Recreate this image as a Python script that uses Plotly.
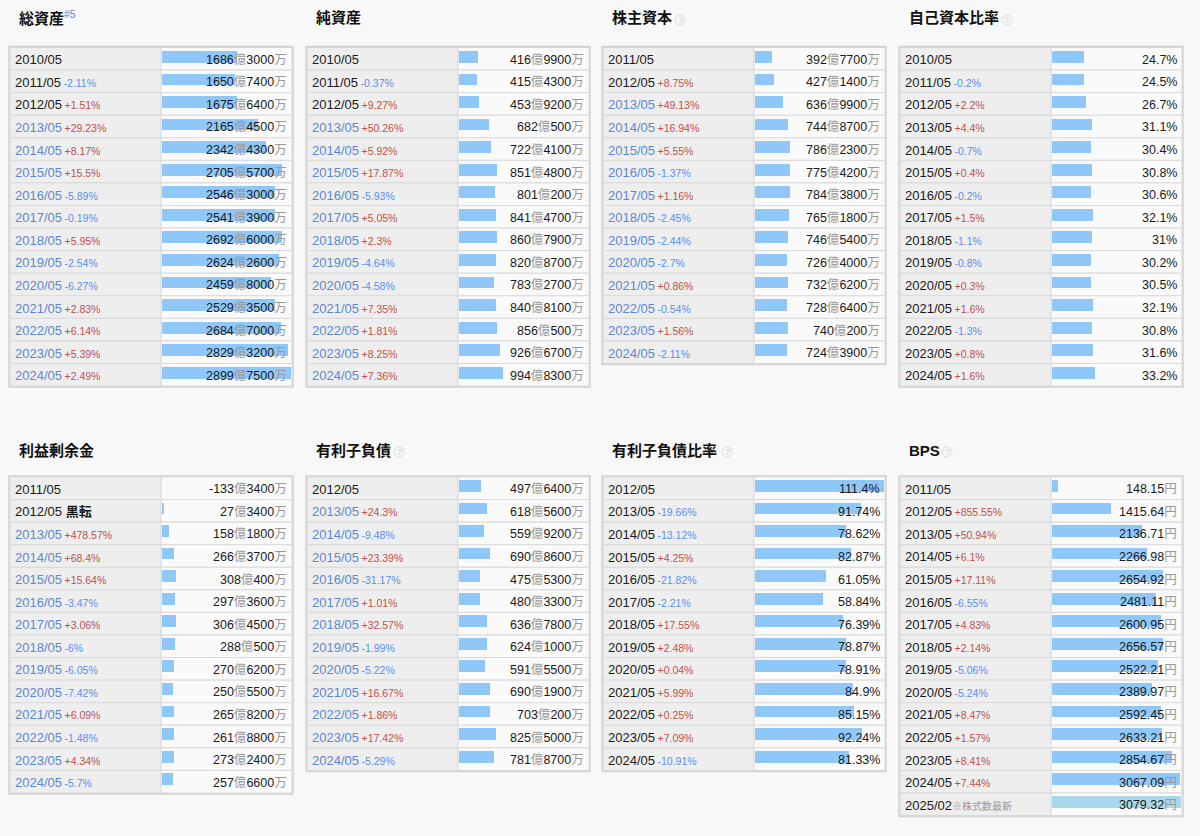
import plotly.graph_objects as go

W, H = 1200, 836
FONT = "Liberation Sans, Arial, Noto Sans CJK JP, sans-serif"

# 総資産 (億円)
ta_years = ["2010/05", "2011/05", "2012/05", "2013/05", "2014/05", "2015/05", "2016/05", "2017/05",
            "2018/05", "2019/05", "2020/05", "2021/05", "2022/05", "2023/05", "2024/05"]
ta_vals = [1686.30, 1650.74, 1675.64, 2165.45, 2342.43, 2705.57, 2546.30, 2541.39,
           2692.60, 2624.26, 2459.80, 2529.35, 2684.70, 2829.32, 2899.75]
ta_chg = [None, -2.11, 1.51, 29.23, 8.17, 15.5, -5.89, -0.19, 5.95, -2.54, -6.27, 2.83, 6.14, 5.39, 2.49]

# 純資産 (億円)
na_years = ta_years
na_vals = [416.99, 415.43, 453.92, 682.05, 722.41, 851.48, 801.02, 841.47,
           860.79, 820.87, 783.27, 840.81, 856.05, 926.67, 994.83]
na_chg = [None, -0.37, 9.27, 50.26, 5.92, 17.87, -5.93, 5.05, 2.3, -4.64, -4.58, 7.35, 1.81, 8.25, 7.36]

# 株主資本 (億円)
sc_years = ta_years[1:]
sc_vals = [392.77, 427.14, 636.99, 744.87, 786.23, 775.42, 784.38, 765.18,
           746.54, 726.40, 732.62, 728.64, 740.02, 724.39]
sc_chg = [None, 8.75, 49.13, 16.94, 5.55, -1.37, 1.16, -2.45, -2.44, -2.7, 0.86, -0.54, 1.56, -2.11]

# 自己資本比率 (%)
er_years = ta_years
er_vals = [24.7, 24.5, 26.7, 31.1, 30.4, 30.8, 30.6, 32.1, 31.0, 30.2, 30.5, 32.1, 30.8, 31.6, 33.2]
er_chg = [None, -0.2, 2.2, 4.4, -0.7, 0.4, -0.2, 1.5, -1.1, -0.8, 0.3, 1.6, -1.3, 0.8, 1.6]

# 利益剰余金 (億円)
re_years = ta_years[1:]
re_vals = [-133.34, 27.34, 158.18, 266.37, 308.04, 297.36, 306.45, 288.05,
           270.62, 250.55, 265.82, 261.88, 273.24, 257.66]
re_chg = [None, "黒転", 478.57, 68.4, 15.64, -3.47, 3.06, -6, -6.05, -7.42, 6.09, -1.48, 4.34, -5.7]

# 有利子負債 (億円)
de_years = ta_years[2:]
de_vals = [497.64, 618.56, 559.92, 690.86, 475.53, 480.33, 636.78, 624.10,
           591.55, 690.19, 703.02, 825.50, 781.87]
de_chg = [None, 24.3, -9.48, 23.39, -31.17, 1.01, 32.57, -1.99, -5.22, 16.67, 1.86, 17.42, -5.29]

# 有利子負債比率 (%)
dr_years = de_years
dr_vals = [111.4, 91.74, 78.62, 82.87, 61.05, 58.84, 76.39, 78.87, 78.91, 84.9, 85.15, 92.24, 81.33]
dr_chg = [None, -19.66, -13.12, 4.25, -21.82, -2.21, 17.55, 2.48, 0.04, 5.99, 0.25, 7.09, -10.91]

# BPS (円)
bps_years = ta_years[1:] + ["2025/02"]
bps_vals = [148.15, 1415.64, 2136.71, 2266.98, 2654.92, 2481.11, 2600.95, 2656.57,
            2522.21, 2389.97, 2592.45, 2633.21, 2854.67, 3067.09, 3079.32]
bps_chg = [None, 855.55, 50.94, 6.1, 17.11, -6.55, 4.83, 2.14, -5.06, -5.24, 8.47, 1.57, 8.41, 7.44, "※株式数最新"]

GRAY_UNIT = "#999999"
GAP = "<span style='font-size:9px'> </span>"


def oku_man(v):
    sign = "-" if v < 0 else ""
    a = abs(v)
    oku = int(a)
    man = int(round((a - oku) * 10000))
    return (f"{sign}{oku}<span style='color:{GRAY_UNIT}'>億</span>"
            f"{man}<span style='color:{GRAY_UNIT}'>万</span>")


def pct(v):
    return f"{v:g}%"


def yen(v):
    return f"{v:.2f}<span style='color:{GRAY_UNIT}'>円</span>"


shared_max = max(ta_vals)

panels = [
    dict(title="総資産", sup="#5", years=ta_years, vals=ta_vals, chg=ta_chg, fmt=oku_man, vmax=shared_max, link="2013/05", help=None),
    dict(title="純資産", sup=None, years=na_years, vals=na_vals, chg=na_chg, fmt=oku_man, vmax=shared_max, link="2013/05", help=None),
    dict(title="株主資本", sup=None, years=sc_years, vals=sc_vals, chg=sc_chg, fmt=oku_man, vmax=shared_max, link="2013/05", help=70),
    dict(title="自己資本比率", sup=None, years=er_years, vals=er_vals, chg=er_chg, fmt=pct, vmax=100, link=None, help=100),
    dict(title="利益剰余金", sup=None, years=re_years, vals=re_vals, chg=re_chg, fmt=oku_man, vmax=shared_max, link="2013/05", help=None),
    dict(title="有利子負債", sup=None, years=de_years, vals=de_vals, chg=de_chg, fmt=oku_man, vmax=shared_max, link="2013/05", help=85),
    dict(title="有利子負債比率", sup=None, years=dr_years, vals=dr_vals, chg=dr_chg, fmt=pct, vmax=max(dr_vals), link=None, help=117),
    dict(title="BPS", sup=None, years=bps_years, vals=bps_vals, chg=bps_chg, fmt=yen, vmax=max(bps_vals), link=None, help=40),
]

lefts = [10, 307, 603, 900]
tops = [47.5, 477]
title_ys = [18, 450]
RH = 22.57
LABEL_W = 151
TABLE_W = 282

BAR = "#8fc8f8"
BAR_LIGHT = "#a9d8ea"
BLACK = "#1a1a1a"
LINK = "#5b88cf"
UP = "#c0504d"
DOWN = "#5a8ff0"


def px(x):
    return x / W


def py(y):
    return 1 - y / H


fig = go.Figure()
shapes = []
annotations = []
layout_axes = {}

for k, p in enumerate(panels, start=1):
    L = lefts[(k - 1) % 4]
    top = tops[(k - 1) // 4]
    ty = title_ys[(k - 1) // 4]
    n = len(p["years"])
    sfx = "" if k == 1 else str(k)

    # table cells
    for i in range(n):
        y0, y1 = top + i * RH, top + (i + 1) * RH
        shapes.append(dict(type="rect", xref="paper", yref="paper", layer="below",
                           x0=px(L), x1=px(L + LABEL_W), y0=py(y1), y1=py(y0),
                           fillcolor="#eeeeee", line=dict(color="#dadada", width=1)))
        shapes.append(dict(type="rect", xref="paper", yref="paper", layer="below",
                           x0=px(L + LABEL_W), x1=px(L + TABLE_W), y0=py(y1), y1=py(y0),
                           fillcolor="#fafafa", line=dict(color="#dadada", width=1)))
    shapes.append(dict(type="rect", xref="paper", yref="paper", layer="below",
                       x0=px(L - 1), x1=px(L + TABLE_W + 1), y0=py(top + n * RH + 1), y1=py(top - 1),
                       fillcolor="rgba(0,0,0,0)", line=dict(color="#d2d2d2", width=1.5)))

    colors = [BAR] * n
    if isinstance(p["chg"][-1], str) and p["chg"][-1].startswith("※"):
        colors[-1] = BAR_LIGHT

    fig.add_trace(go.Bar(
        x=p["vals"], y=p["years"], orientation="h",
        xaxis="x" + sfx, yaxis="y" + sfx,
        marker=dict(color=colors, line=dict(width=0)),
        width=0.52, offset=-0.37, hoverinfo="skip", showlegend=False,
    ))

    layout_axes["xaxis" + sfx] = dict(domain=[px(L + LABEL_W + 1), px(L + TABLE_W - 1)],
                                      range=[0, p["vmax"]], visible=False, fixedrange=True,
                                      anchor="y" + sfx)
    layout_axes["yaxis" + sfx] = dict(domain=[py(top + n * RH), py(top)], type="category",
                                      categoryorder="array", categoryarray=p["years"],
                                      range=[n - 0.5, -0.5], visible=False, fixedrange=True,
                                      anchor="x" + sfx)

    linked = False
    for i, (yr, v, c) in enumerate(zip(p["years"], p["vals"], p["chg"])):
        if p["link"] is not None and yr == p["link"]:
            linked = True
        ycol = LINK if linked else BLACK
        txt = f"<span style='color:{ycol}'>{yr}</span>"
        if isinstance(c, str):
            if c.startswith("※"):
                txt += f"<span style='font-size:10px;color:#9a9a9a'>{c}</span>"
            else:
                txt += f" <b>{c}</b>"
        elif c is not None:
            cc = UP if c > 0 else DOWN
            txt += f"{GAP}<span style='font-size:10.5px;color:{cc}'>{c:+g}%</span>"
        annotations.append(dict(xref="paper", yref="y" + sfx, x=px(L + 3), y=yr, text=txt,
                                showarrow=False, xanchor="left", yanchor="middle", yshift=-1,
                                font=dict(size=13, color=BLACK, family=FONT)))
        annotations.append(dict(xref="paper", yref="y" + sfx, x=px(L + TABLE_W - 3), y=yr,
                                text=p["fmt"](v), showarrow=False, xanchor="right",
                                yanchor="middle", yshift=-1,
                                font=dict(size=12.5, color=BLACK, family=FONT)))

    # panel title
    ttl = f"<b>{p['title']}</b>"
    if p["sup"]:
        ttl += f"<sup><span style='color:{LINK}'>{p['sup']}</span></sup>"
    annotations.append(dict(xref="paper", yref="paper", x=px(L + 7), y=py(ty), text=ttl,
                            showarrow=False, xanchor="left", yanchor="middle",
                            font=dict(size=15, color="#111111", family=FONT)))
    if p["help"]:
        hx = L + 7 + p["help"]
        shapes.append(dict(type="circle", xref="paper", yref="paper",
                           x0=px(hx - 5), x1=px(hx + 5), y0=py(ty + 7), y1=py(ty - 3),
                           line=dict(color="#dddddd", width=1), fillcolor="rgba(0,0,0,0)"))
        annotations.append(dict(xref="paper", yref="paper", x=px(hx), y=py(ty + 2), text="?",
                                showarrow=False, xanchor="center", yanchor="middle",
                                font=dict(size=9, color="#cccccc", family=FONT)))

fig.update_layout(
    width=W, height=H,
    margin=dict(l=0, r=0, t=0, b=0),
    paper_bgcolor="#f8f8f8", plot_bgcolor="rgba(0,0,0,0)",
    shapes=shapes, annotations=annotations,
    font=dict(family=FONT, size=12),
    bargap=0,
    **layout_axes,
)

# page margin off so the figure sits at the window origin
fig.write_html("out.html", config={"displayModeBar": False},
               post_script="document.body.style.margin='0';document.body.style.background='#f8f8f8';")
